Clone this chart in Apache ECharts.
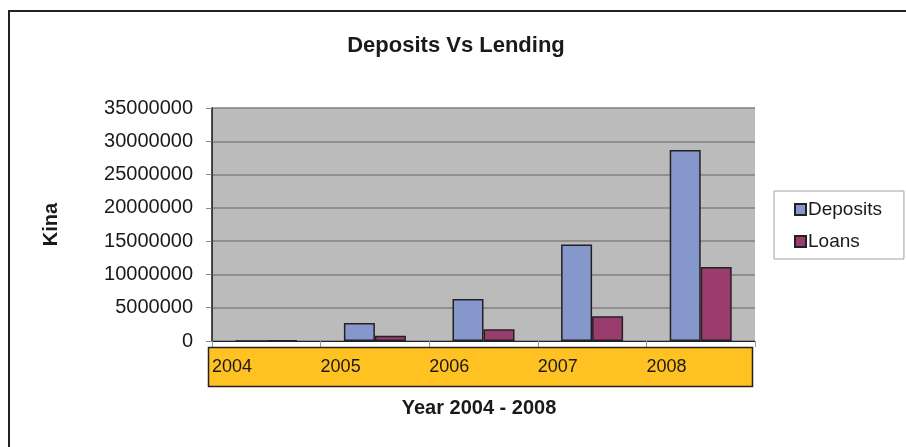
<!DOCTYPE html>
<html>
<head>
<meta charset="utf-8">
<script src="https://cdn.jsdelivr.net/npm/echarts@6/dist/echarts.min.js"></script>
<style>
  html, body { margin: 0; padding: 0; background: #fff; }
  #chart { width: 906px; height: 447px; }
</style>
</head>
<body>
<div id="chart"></div>
<script>
// Annual deposits and loans, in Kina
const years = ['2004', '2005', '2006', '2007', '2008'];
const deposits = [0, 2700000, 6300000, 14500000, 28700000];
const loans = [100000, 800000, 1750000, 3700000, 11100000];
const yTicks = { min: 0, max: 35000000, interval: 5000000 };

const FONT = '"Liberation Sans", Arial, sans-serif';

const chart = echarts.init(document.getElementById('chart'), null, { renderer: 'canvas' });

chart.setOption({
  animation: false,
  backgroundColor: '#ffffff',
  title: {
    text: 'Deposits Vs Lending',
    left: 451,
    top: 30,
    textAlign: 'center',
    textStyle: { fontFamily: FONT, fontSize: 22, fontWeight: 'bold', color: '#1a1a1a' }
  },
  legend: {
    orient: 'vertical',
    left: 774,
    top: 191,
    padding: [9, 22, 8, 20],
    itemGap: 13,
    itemWidth: 11,
    itemHeight: 11,
    borderColor: '#a0a0a0',
    borderWidth: 1,
    icon: 'rect',
    textStyle: { fontFamily: FONT, fontSize: 19, color: '#1a1a1a', padding: [0, 0, 0, -3] },
    data: ['Deposits', 'Loans']
  },
  grid: {
    left: 212,
    right: 151,
    top: 108,
    bottom: 106,
    show: true,
    backgroundColor: '#bbbbbb',
    borderWidth: 0
  },
  graphic: [
    {
      type: 'rect',
      z: 0,
      shape: { x: 9, y: 11, width: 1000, height: 600 },
      style: { fill: 'none', stroke: '#222', lineWidth: 2 }
    },
    {
      type: 'rect',
      z: 1,
      shape: { x: 208.5, y: 347.5, width: 544, height: 39 },
      style: { fill: '#ffc222', stroke: '#222', lineWidth: 1.5 }
    },
    {
      type: 'text',
      z: 5,
      x: 479,
      y: 408,
      style: {
        text: 'Year 2004 - 2008',
        textAlign: 'center',
        textVerticalAlign: 'middle',
        font: 'bold 20px ' + FONT,
        fill: '#1a1a1a'
      }
    }
  ],
  xAxis: [
    {
      type: 'category',
      data: years,
      boundaryGap: true,
      axisLine: { show: true, lineStyle: { color: '#222', width: 1 } },
      axisTick: { show: true, length: 6, lineStyle: { color: '#999' } },
      axisLabel: { show: false },
      splitLine: { show: false }
    },
    {
      // year labels sit at the left edge of each category band
      type: 'category',
      data: years.concat(['']),
      boundaryGap: false,
      position: 'bottom',
      z: 10,
      axisLine: { show: false },
      axisTick: { show: false },
      axisLabel: {
        show: true,
        align: 'left',
        margin: 17,
        fontFamily: FONT,
        fontSize: 18,
        color: '#1a1a1a'
      },
      splitLine: { show: false }
    }
  ],
  yAxis: {
    type: 'value',
    min: yTicks.min,
    max: yTicks.max,
    interval: yTicks.interval,
    name: 'Kina',
    nameLocation: 'middle',
    nameGap: 151,
    nameRotate: 90,
    nameTextStyle: { fontFamily: FONT, fontSize: 20, fontWeight: 'bold', color: '#1a1a1a' },
    axisLine: { show: true, lineStyle: { color: '#111', width: 1.5 } },
    axisTick: { show: true, length: 6, lineStyle: { color: '#888' } },
    axisLabel: {
      margin: 19,
      fontFamily: FONT,
      fontSize: 20,
      color: '#1a1a1a',
      formatter: v => String(v)
    },
    splitLine: { show: true, lineStyle: { color: '#808080', width: 1.5 } }
  },
  series: [
    {
      name: 'Deposits',
      type: 'bar',
      xAxisIndex: 0,
      data: deposits,
      barWidth: 31,
      barGap: '0%',
      itemStyle: { color: '#8597cb', borderColor: '#222', borderWidth: 1.5 }
    },
    {
      name: 'Loans',
      type: 'bar',
      xAxisIndex: 0,
      data: loans,
      barWidth: 31,
      barGap: '0%',
      itemStyle: { color: '#9a3d6e', borderColor: '#222', borderWidth: 1.5 }
    }
  ]
});
</script>
</body>
</html>
